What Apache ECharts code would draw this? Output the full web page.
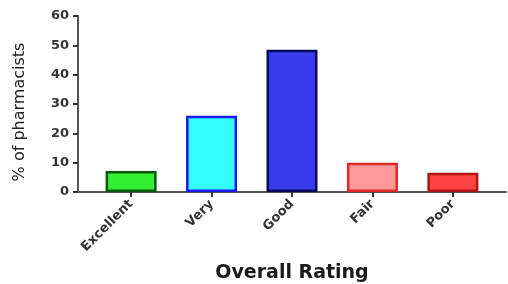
<!DOCTYPE html>
<html lang="en">
<head>
<meta charset="UTF-8">
<title>Overall Rating</title>
<script src="https://cdn.jsdelivr.net/npm/echarts@6/dist/echarts.min.js"></script>
</head>
<body style="margin:0;background:#fff;">
<div id="main" style="width:508px;height:284px;"></div>
<script type="text/javascript">
    // data
    var categories = ['Excellent', 'Very', 'Good', 'Fair', 'Poor'];
    var percentages = [7.2, 26, 48.5, 10, 6.6];
    var fillColors = ['#33ee33', '#33ffff', '#3a3aee', '#ff9a9a', '#ff4242'];
    var borderColors = ['#0b5a0b', '#1a1ae8', '#0a0a5a', '#e02828', '#b01414'];
    var yTicks = [0, 10, 20, 30, 40, 50, 60];

    var positions = categories.map(function (c, i) { return i; });

    var barData = percentages.map(function (v, i) {
        return {
            value: [i, v],
            itemStyle: {
                color: fillColors[i],
                borderColor: borderColors[i],
                borderWidth: 2.5
            }
        };
    });

    var myChart = echarts.init(document.getElementById('main'));
    var option = {
        animation: false,
        backgroundColor: '#ffffff',
        grid: {
            left: 78,
            right: 2,
            top: 16,
            bottom: 92,
            outerBoundsMode: 'none'
        },
        xAxis: {
            type: 'value',
            min: -0.66,
            max: 4.66,
            name: 'Overall Rating',
            nameLocation: 'middle',
            nameGap: 72,
            nameTextStyle: {
                fontFamily: 'DejaVu Sans',
                fontWeight: 'bold',
                fontSize: 19,
                color: '#1a1a1a'
            },
            splitLine: {show: false},
            axisLine: {onZero: false, lineStyle: {color: '#555', width: 2}},
            axisTick: {
                customValues: positions,
                length: 5,
                lineStyle: {color: '#333', width: 2}
            },
            axisLabel: {
                customValues: positions,
                rotate: 45,
                margin: 10,
                fontFamily: 'DejaVu Sans',
                fontWeight: 'bold',
                fontSize: 13,
                color: '#333',
                formatter: function (v) { return categories[v]; }
            }
        },
        yAxis: {
            type: 'value',
            min: 0,
            max: 60,
            interval: 10,
            name: '% of pharmacists',
            nameLocation: 'middle',
            nameGap: 50,
            nameTextStyle: {
                fontFamily: 'DejaVu Sans',
                fontSize: 16,
                color: '#222',
                padding: [0, 16, 0, 0]
            },
            splitLine: {show: false},
            axisLine: {show: true, onZero: false, lineStyle: {color: '#555', width: 2}},
            axisTick: {show: true, length: 5, lineStyle: {color: '#333', width: 2}},
            axisLabel: {
                margin: 9,
                fontFamily: 'DejaVu Sans',
                fontWeight: 'bold',
                fontSize: 13,
                color: '#333',
                formatter: function (v) { return yTicks.indexOf(v) >= 0 ? String(v) : ''; }
            }
        },
        series: [{
            type: 'bar',
            barWidth: 51,
            data: barData
        }]
    };
    myChart.setOption(option);
</script>
</body>
</html>
